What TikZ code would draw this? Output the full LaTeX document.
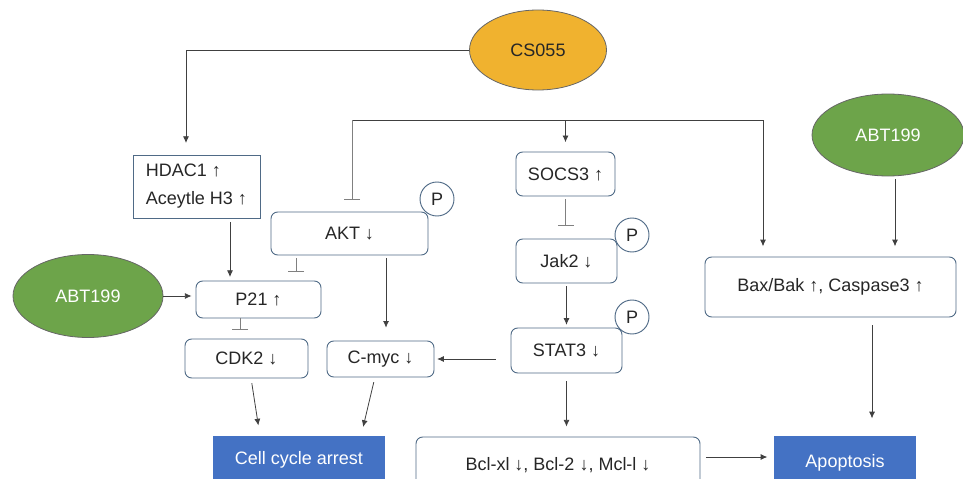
\documentclass[tikz,border=0pt]{standalone}
\usepackage{fontspec}
\setmainfont{Liberation Sans}
\usetikzlibrary{arrows.meta,shapes.geometric}
\definecolor{boxline}{HTML}{4F6A86}
\definecolor{drugorange}{HTML}{F0B22F}
\definecolor{druggreen}{HTML}{6DA44A}
\definecolor{outblue}{HTML}{4472C4}
\tikzset{
  txt/.style={font=\fontsize{13.5}{21}\selectfont, text=black!85},
  box/.style={txt, draw=boxline, rounded corners=5pt, line width=0.7pt, inner sep=0pt},
  plainbox/.style={txt, draw=boxline, line width=0.7pt, inner sep=0pt},
  outbox/.style={txt, fill=outblue, text=white, inner sep=0pt},
  drug/.style={txt, ellipse, draw=black!60, line width=0.6pt, inner sep=0pt},
  phos/.style={txt, circle, draw=boxline, fill=white, line width=0.7pt, minimum size=25.5pt, inner sep=0pt},
  arr/.style={draw=black!75, line width=0.6pt, -{Latex[length=5pt,width=4.5pt]}},
  inh/.style={draw=black!50, line width=0.5pt, -{Bar[width=12pt]}}
}
\begin{document}
\begin{tikzpicture}[x=0.75pt,y=-0.75pt]
  \useasboundingbox (0,0) rectangle (963,478);
  % drugs
  \node[drug, fill=drugorange, minimum width=102.75pt, minimum height=60pt] (cs055) at (538,50) {CS055};
  \node[drug, fill=druggreen, text=white, minimum width=112.5pt, minimum height=62.25pt] (abtL) at (88,296) {ABT199};
  \node[drug, fill=druggreen, text=white, minimum width=114pt, minimum height=61.5pt] (abtR) at (888,135) {ABT199};
  % left branch
  \node[plainbox, align=left, minimum width=95.25pt, minimum height=47.25pt] (hdac) at (196.5,186.5) {HDAC1 ↑\\Aceytle H3 ↑};
  \node[box, minimum width=117.75pt, minimum height=32.25pt] (akt) at (349.5,233.5) {AKT ↓};
  \node[box, minimum width=93.75pt, minimum height=27.75pt] (p21) at (258.5,299.5) {P21 ↑};
  \node[box, minimum width=92.25pt, minimum height=29.25pt] (cdk2) at (246.5,358.5) {CDK2 ↓};
  \node[box, minimum width=80.25pt, minimum height=27pt] (cmyc) at (380.5,359) {C-myc ↓};
  \node[outbox, minimum width=129pt, minimum height=36pt] (cell) at (299,460) {Cell cycle arrest};
  % middle branch
  \node[box, minimum width=74.25pt, minimum height=33pt] (socs3) at (565.5,174) {SOCS3 ↑};
  \node[box, minimum width=75.75pt, minimum height=33pt] (jak2) at (566.5,261) {Jak2 ↓};
  \node[box, minimum width=83.25pt, minimum height=33.75pt] (stat3) at (566.5,350.5) {STAT3 ↓};
  \node[box, minimum width=213pt, minimum height=42pt] (bcl) at (558,465) {Bcl-xl ↓, Bcl-2 ↓, Mcl-l ↓};
  % right branch
  \node[box, minimum width=188.25pt, minimum height=45pt] (bax) at (830.5,287) {Bax/Bak ↑, Caspase3 ↑};
  \node[outbox, minimum width=106.5pt, minimum height=40.5pt] (apop) at (845,463) {Apoptosis};
  % phosphorylation marks
  \node[phos] (pakt) at (437,199) {P};
  \node[phos] (pjak) at (632,235) {P};
  \node[phos] (pstat) at (632,317) {P};
  % helper points
  \coordinate (hdacin) at (186,155);
  \coordinate (p21in) at (230,281);
  \coordinate (busL) at (352,120);
  \coordinate (busR) at (763,120);
  \coordinate (a2p) at (296,281);
  \coordinate (a2c) at (386,341);
  \coordinate (p2c) at (240,339);
  \coordinate (c1in) at (260,436);
  \coordinate (c1out) at (251,378);
  \coordinate (c2in) at (361,436);
  \coordinate (c2out) at (375,377);
  \coordinate (abtin) at (895,257);
  \coordinate (baxout) at (872,317);
  \coordinate (apopin) at (774,457);
  % connectors
  \draw[arr, shorten >=9pt] (cs055.west) -| (hdacin);
  \draw[arr, shorten <=3pt, shorten >=3pt] (p21in |- hdac.south) -- (p21in);
  \draw[arr, shorten >=8pt] (busL) -- (busR) -- (abtin -| busR);
  \draw[inh, shorten >=9pt] (busL) -- (busL |- akt.north);
  \draw[arr, shorten >=7pt] (socs3.north |- busL) -- (socs3.north);
  \draw[inh, shorten <=2pt, shorten >=7pt] (a2p |- akt.south) -- (a2p);
  \draw[arr, shorten <=2pt, shorten >=10pt] (a2c |- akt.south) -- (a2c);
  \draw[arr, shorten >=3pt] (abtL.east) -- (abtL.east -| p21.west);
  \draw[inh, shorten >=7pt] (p2c |- p21.south) -- (p2c);
  \draw[arr, shorten <=4pt, shorten >=8pt] (c1out) -- (c1in);
  \draw[arr, shorten <=4pt, shorten >=7pt] (c2out) -- (c2in);
  \draw[inh, shorten <=2pt, shorten >=10pt] (socs3.south) -- (socs3.south |- jak2.north);
  \draw[arr, shorten <=2pt, shorten >=2pt] (jak2.south) -- (jak2.south |- stat3.north);
  \draw[arr, shorten <=11pt, shorten >=2pt] (stat3.west |- cmyc.east) -- (cmyc.east);
  \draw[arr, shorten <=6pt, shorten >=7.5pt] (stat3.south) -- (stat3.south |- bcl.north);
  \draw[arr, shorten <=4pt, shorten >=5pt] (bcl.east |- apopin) -- (apopin);
  \draw[arr, shorten <=2pt, shorten >=8pt] (abtin |- abtR.south) -- (abtin);
  \draw[arr, shorten <=6pt, shorten >=13pt] (baxout) -- (baxout |- apop.north);
\end{tikzpicture}
\end{document}
